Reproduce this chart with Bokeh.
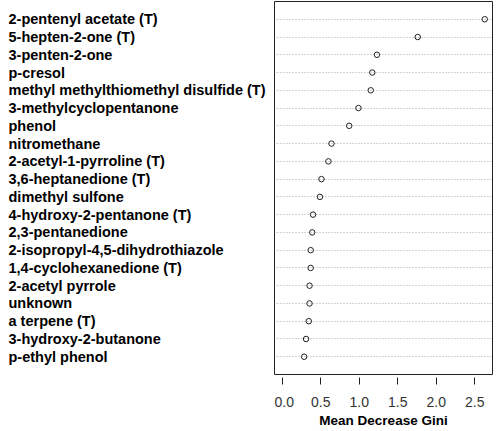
from bokeh.plotting import figure
from bokeh.models import ColumnDataSource, Range1d, FixedTicker
from bokeh.layouts import row
from bokeh.core.properties import value
from bokeh.embed import file_html
from bokeh.resources import INLINE

compounds = [
    "2-pentenyl acetate (T)", "5-hepten-2-one (T)", "3-penten-2-one", "p-cresol",
    "methyl methylthiomethyl disulfide (T)", "3-methylcyclopentanone", "phenol",
    "nitromethane", "2-acetyl-1-pyrroline (T)", "3,6-heptanedione (T)",
    "dimethyl sulfone", "4-hydroxy-2-pentanone (T)", "2,3-pentanedione",
    "2-isopropyl-4,5-dihydrothiazole", "1,4-cyclohexanedione (T)", "2-acetyl pyrrole",
    "unknown", "a terpene (T)", "3-hydroxy-2-butanone", "p-ethyl phenol",
]
gini = [2.63, 1.76, 1.23, 1.17, 1.15, 0.99, 0.87, 0.64, 0.60, 0.51,
        0.49, 0.40, 0.39, 0.37, 0.37, 0.355, 0.355, 0.345, 0.31, 0.285]
x_ticks = [0.0, 0.5, 1.0, 1.5, 2.0, 2.5]
x_label = "Mean Decrease Gini"

n = len(compounds)
rows = list(range(n, 0, -1))
src = ColumnDataSource(dict(name=compounds, gini=gini, row=rows,
                            zero=[0] * n))
yr = Range1d(0, n + 1)

H = 431
TOP = 1
BOTTOM = 57

# label panel
lab = figure(width=274, height=H, output_backend="svg", toolbar_location=None,
             x_range=Range1d(-8, 266), y_range=yr,
             min_border_left=0, min_border_right=0, min_border_top=TOP,
             min_border_bottom=BOTTOM)
lab.axis.visible = False
lab.grid.visible = False
lab.outline_line_color = None
lab.background_fill_color = "white"
lab.border_fill_color = "white"
lab.text(x="zero", y="row", text="name", source=src,
         text_font=value("Liberation Sans"), text_font_style="bold",
         text_font_size="14.5px", text_align="left", text_baseline="middle",
         text_color="black")

# dot panel
p = figure(width=224, height=H, output_backend="svg", toolbar_location=None,
           x_range=Range1d(-0.1, 2.731), y_range=yr,
           min_border_left=0, min_border_right=6, min_border_top=TOP,
           min_border_bottom=BOTTOM)
p.background_fill_color = "white"
p.border_fill_color = "white"
p.outline_line_color = "#222222"
p.outline_line_width = 1

p.yaxis.visible = False
p.xgrid.grid_line_color = None
p.ygrid.ticker = FixedTicker(ticks=rows)
p.ygrid.grid_line_color = "#a8a8a8"
p.ygrid.grid_line_dash = "1 2"
p.ygrid.grid_line_width = 1

ax = p.xaxis[0]
ax.ticker = FixedTicker(ticks=x_ticks)
ax.major_label_overrides = {t: f"{t:.1f}" for t in x_ticks}
ax.axis_line_color = None
ax.major_tick_in = -3
ax.major_tick_out = 10
ax.major_tick_line_color = "#222222"
ax.minor_tick_line_color = None
ax.major_label_text_font = "Liberation Sans"
ax.major_label_text_font_size = "14px"
ax.major_label_text_color = "#333333"
ax.major_label_standoff = 12
ax.axis_label = x_label
ax.axis_label_text_font = "Liberation Sans"
ax.axis_label_text_font_style = "bold"
ax.axis_label_text_font_size = "13.5px"
ax.axis_label_text_color = "black"
ax.axis_label_standoff = 3

p.scatter("gini", "row", source=src, marker="circle", size=5.5,
          fill_color=None, line_color="#222222", line_width=1)

layout = row(lab, p, spacing=0)
open("out.html", "w").write(file_html(layout, INLINE))
